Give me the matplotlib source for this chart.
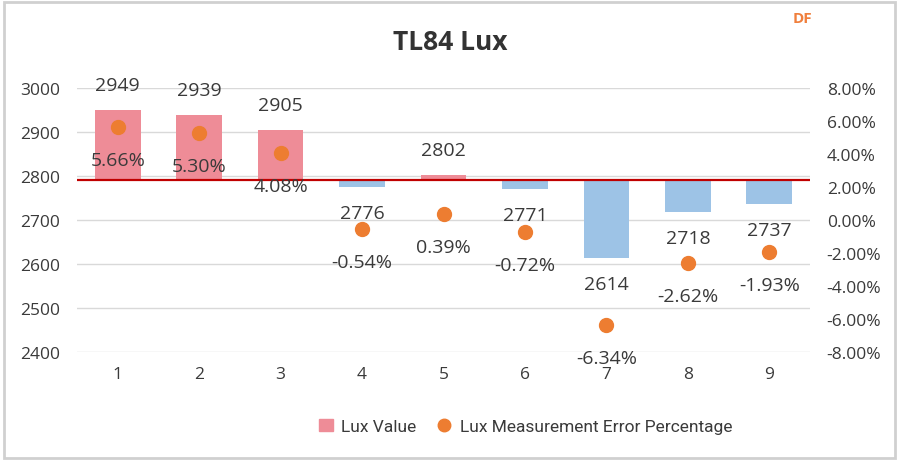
import numpy as np
import matplotlib.pyplot as plt
from matplotlib.lines import Line2D
from matplotlib.patches import Patch
from matplotlib.ticker import FuncFormatter

plt.rcParams['font.family'] = ['Open Sans', 'DejaVu Sans']

samples = [1, 2, 3, 4, 5, 6, 7, 8, 9]
lux_values = [2949, 2939, 2905, 2776, 2802, 2771, 2614, 2718, 2737]
error_pct = [5.66, 5.30, 4.08, -0.54, 0.39, -0.72, -6.34, -2.62, -1.93]
reference_lux = 2791

TEXT = '#3A3A3A'
PINK = '#EE8C97'
BLUE = '#9DC3E6'
ORANGE = '#ED7D31'
RED = '#C00000'

fig = plt.figure(figsize=(9, 4.64), dpi=100)
ax = fig.add_axes([0.0856, 0.2392, 0.8144, 0.569])
ax2 = ax.twinx()

x = np.array(samples)
vals = np.array(lux_values)
colors = [PINK if v >= reference_lux else BLUE for v in vals]
ax.bar(x, vals - reference_lux, bottom=reference_lux, width=0.56, color=colors, zorder=2)
ax.axhline(reference_lux, color=RED, lw=1.6, zorder=3)

ax.set_xlim(0.5, 9.5)
ax.set_ylim(2400, 3000)
ax.set_yticks(np.arange(2400, 3001, 100))
ax.set_xticks(x)
ax.grid(axis='y', color='#D9D9D9', lw=1, zorder=0)
ax.set_axisbelow(True)
for s in ax.spines.values():
    s.set_visible(False)
for s in ax2.spines.values():
    s.set_visible(False)
ax.tick_params(axis='both', length=0, colors=TEXT, labelsize=12.5)
ax.tick_params(axis='x', pad=10)
ax.tick_params(axis='y', pad=12)

for xi, v in zip(x, vals):
    off = 25 if v >= reference_lux else -26
    ax.annotate(str(v), (xi, v), xytext=(0, off), textcoords='offset pixels',
                ha='center', va='center', fontsize=14, color=TEXT, zorder=5)

ax2.set_ylim(-8, 8)
ax2.set_yticks(np.arange(-8, 8.1, 2))
ax2.yaxis.set_major_formatter(FuncFormatter(lambda v, p: f'{v:.2f}%'))
ax2.tick_params(axis='y', length=0, colors=TEXT, labelsize=12.5, pad=12)
ax2.plot(x, error_pct, 'o', color=ORANGE, ms=10, zorder=4)
for xi, e in zip(x, error_pct):
    ax2.annotate(f'{e:.2f}%', (xi, e), xytext=(0, -33), textcoords='offset pixels',
                 ha='center', va='center', fontsize=14, color=TEXT, zorder=5)

fig.text(0.5, 0.908, 'TL84 Lux', ha='center', va='center', fontsize=19,
         fontweight='bold', color='#333333')
fig.text(0.892, 0.96, 'DF', ha='center', va='center', fontsize=11,
         fontweight='bold', color='#F07F3C')

handles = [Patch(color=PINK), Line2D([], [], marker='o', ls='', color=ORANGE, ms=9)]
fig.legend(handles, ['Lux Value', 'Lux Measurement Error Percentage'],
           loc='center', bbox_to_anchor=(0.584, 0.078), ncol=2, frameon=False,
           prop={'family': 'Roboto', 'size': 12.5}, labelcolor=TEXT,
           handlelength=0.8, handletextpad=0.5, columnspacing=1.2)

fig.patches.append(plt.Rectangle((0.004, 0.01), 0.99, 0.984, transform=fig.transFigure,
                                 fill=False, ec='#D0D0D0', lw=2))

fig.savefig('out.png', dpi=100)
